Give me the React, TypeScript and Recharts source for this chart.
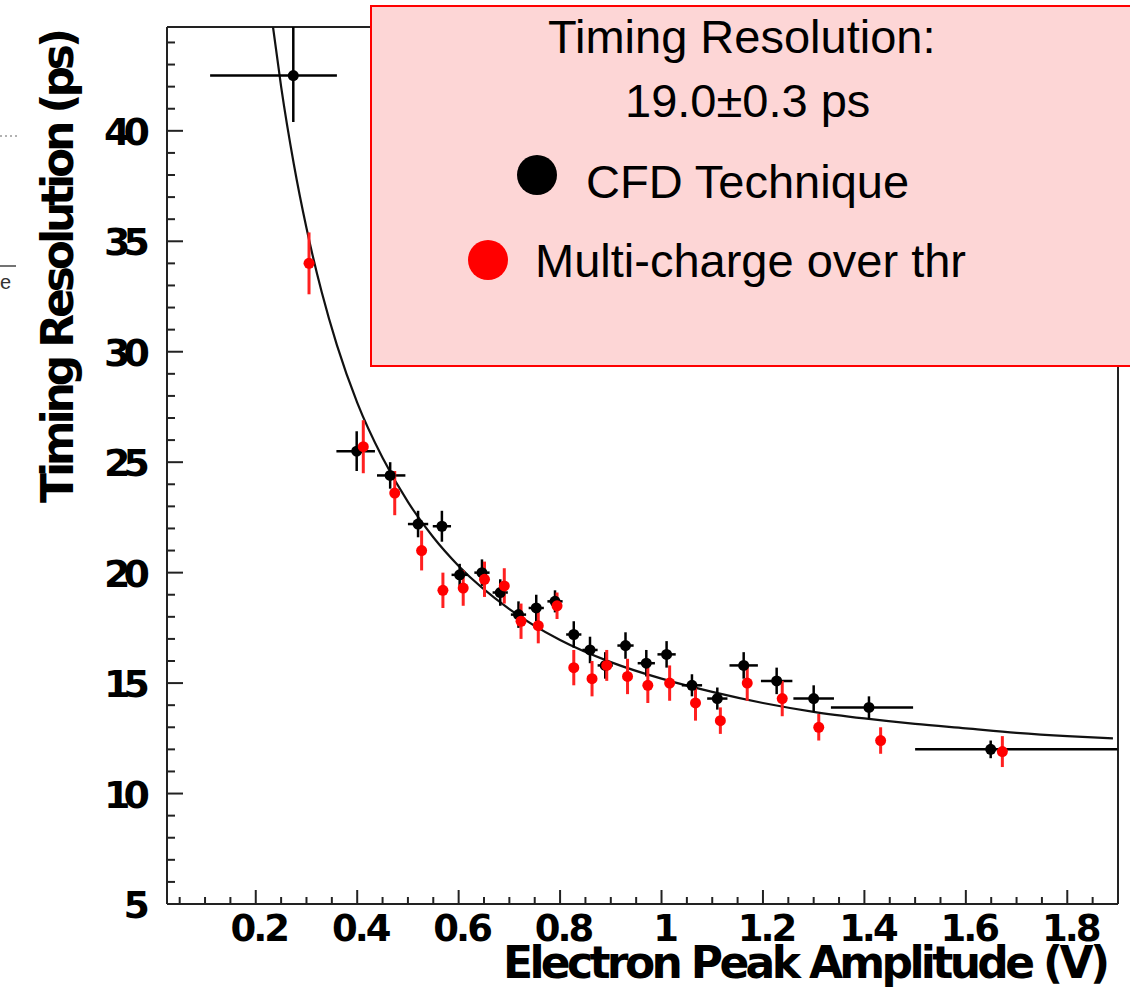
import React from 'react';
import { ComposedChart, Scatter, Line, XAxis, YAxis, ErrorBar, ReferenceLine, Label } from 'recharts';

// CFD technique points (black): x, y, x-error [low, high], y-error [low, high]
const cfdX = [0.274, 0.399, 0.465, 0.52, 0.567, 0.602, 0.646, 0.682, 0.718, 0.753, 0.79, 0.827, 0.859, 0.889, 0.929, 0.97, 1.01, 1.06, 1.11, 1.162, 1.227, 1.3, 1.409, 1.649];
const cfdY = [42.5, 25.5, 24.4, 22.2, 22.1, 19.9, 20.0, 19.1, 18.1, 18.4, 18.7, 17.2, 16.5, 15.8, 16.7, 15.9, 16.3, 14.9, 14.3, 15.8, 15.1, 14.3, 13.9, 12.0];
const cfdErrX = [[0.164, 0.086], [0.04, 0.036], [0.026, 0.03], [0.02, 0.02], [0.018, 0.018], [0.016, 0.016], [0.015, 0.015], [0.015, 0.015], [0.015, 0.015], [0.015, 0.015], [0.015, 0.015], [0.015, 0.015], [0.015, 0.015], [0.015, 0.015], [0.016, 0.016], [0.017, 0.017], [0.018, 0.018], [0.02, 0.02], [0.02, 0.02], [0.028, 0.028], [0.031, 0.031], [0.04, 0.04], [0.075, 0.087], [0.149, 0.25]];
const cfdErrY = [[2.1, 2.2], [0.9, 0.9], [0.6, 0.6], [0.6, 0.6], [0.7, 0.7], [0.5, 0.5], [0.6, 0.6], [0.6, 0.6], [0.6, 0.6], [0.6, 0.6], [0.5, 0.5], [0.6, 0.6], [0.6, 0.6], [0.6, 0.6], [0.6, 0.6], [0.6, 0.6], [0.6, 0.6], [0.5, 0.5], [0.5, 0.5], [0.6, 0.6], [0.6, 0.6], [0.6, 0.6], [0.5, 0.5], [0.4, 0.4]];

// Multi-charge over threshold points (red): x, y, y-error
const mcX = [0.305, 0.412, 0.474, 0.527, 0.569, 0.609, 0.651, 0.69, 0.723, 0.757, 0.794, 0.827, 0.863, 0.892, 0.933, 0.973, 1.016, 1.067, 1.116, 1.169, 1.238, 1.31, 1.432, 1.672];
const mcY = [34.0, 25.7, 23.6, 21.0, 19.2, 19.3, 19.7, 19.4, 17.8, 17.6, 18.5, 15.7, 15.2, 15.8, 15.3, 14.9, 15.0, 14.1, 13.3, 15.0, 14.3, 13.0, 12.4, 11.9];
const mcErrY = [1.4, 1.2, 1.0, 0.9, 0.8, 0.8, 0.8, 0.8, 0.8, 0.8, 0.6, 0.8, 0.8, 0.7, 0.8, 0.8, 0.8, 0.8, 0.6, 0.8, 0.8, 0.6, 0.6, 0.7];

// fit curve
const fitX = [0.234, 0.25, 0.275, 0.3, 0.33, 0.36, 0.4, 0.45, 0.5, 0.55, 0.6, 0.7, 0.8, 0.9, 1.0, 1.1, 1.2, 1.3, 1.4, 1.5, 1.6, 1.7, 1.8, 1.89];
const fitY = [44.7, 42.0, 38.5, 35.6, 32.7, 30.3, 27.7, 25.2, 23.2, 21.6, 20.3, 18.35, 16.95, 15.95, 15.2, 14.6, 14.1, 13.7, 13.4, 13.15, 12.95, 12.75, 12.6, 12.5];

const xMajor = [0.2, 0.4, 0.6, 0.8, 1.0, 1.2, 1.4, 1.6, 1.8];
const xTicks = [0.05, 0.1, 0.15, 0.2, 0.25, 0.3, 0.35, 0.4, 0.45, 0.5, 0.55, 0.6, 0.65, 0.7, 0.75, 0.8, 0.85, 0.9, 0.95, 1.0, 1.05, 1.1, 1.15, 1.2, 1.25, 1.3, 1.35, 1.4, 1.45, 1.5, 1.55, 1.6, 1.65, 1.7, 1.75, 1.8, 1.85];
const yMajor = [5, 10, 15, 20, 25, 30, 35, 40];
const yTicks = [5, 6, 7, 8, 9, 10, 11, 12, 13, 14, 15, 16, 17, 18, 19, 20, 21, 22, 23, 24, 25, 26, 27, 28, 29, 30, 31, 32, 33, 34, 35, 36, 37, 38, 39, 40, 41, 42, 43, 44];

const xDomain = [0.025, 1.9];
const yDomain = [5, 44.7];

const cfdName = 'CFD Technique';
const mcName = 'Multi-charge over thr';
const fitTitle = 'Timing Resolution:';
const fitValue = '19.0\u00b10.3 ps';

const W = 1130;
const H = 990;
const PLOT_LEFT = 167;
const PLOT_BOTTOM = 904;
const AXIS_COLOR = '#222';
const TICK_FONT = '"DejaVu Sans", sans-serif';

const cfdData = cfdX.map((x, i) => ({ x, y: cfdY[i], ex: cfdErrX[i], ey: cfdErrY[i] }));
const mcData = mcX.map((x, i) => ({ x, y: mcY[i], ey: mcErrY[i] }));
const fitData = fitX.map((x, i) => ({ x, y: fitY[i] }));

const isMajor = (list: number[], v: number) => list.some(m => Math.abs(m - v) < 1e-6);

const XTick = (props: any) => {
  const { x, payload } = props;
  const v = payload.value;
  const major = isMajor(xMajor, v);
  return (
    <g>
      <line x1={x} x2={x} y1={PLOT_BOTTOM} y2={PLOT_BOTTOM - (major ? 14 : 7)} stroke={AXIS_COLOR} strokeWidth={2} />
      {major && (
        <text x={x + 3} y={941} textAnchor="middle" fontFamily={TICK_FONT} fontWeight="bold" fontSize={37} letterSpacing={-3} fill="#000">
          {Math.abs(v - 1) < 1e-6 ? '1' : v.toFixed(1)}
        </text>
      )}
    </g>
  );
};

const YTick = (props: any) => {
  const { y, payload } = props;
  const v = payload.value;
  const major = isMajor(yMajor, v);
  return (
    <g>
      <line x1={PLOT_LEFT} x2={PLOT_LEFT + (major ? 16 : 8)} y1={y} y2={y} stroke={AXIS_COLOR} strokeWidth={2} />
      {major && (
        <text x={143} y={y + 1} textAnchor="end" dominantBaseline="central" fontFamily={TICK_FONT} fontWeight="bold" fontSize={38} letterSpacing={-7} fill="#000">
          {v}
        </text>
      )}
    </g>
  );
};

const XTitle = (props: any) => {
  const { viewBox } = props;
  const right = viewBox.x + viewBox.width - 8;
  return (
    <text x={right - 607} y={978} fontFamily={TICK_FONT} fontWeight="bold" fontSize={44} textLength={607} lengthAdjust="spacing" fill="#000">
      Electron Peak Amplitude (V)
    </text>
  );
};

const YTitle = (props: any) => {
  const { viewBox } = props;
  const top = viewBox.y + 1;
  return (
    <text
      x={73}
      y={top}
      transform={`rotate(-90, 73, ${top})`}
      textAnchor="end"
      fontFamily={TICK_FONT}
      fontWeight="bold"
      fontSize={44}
      textLength={475}
      lengthAdjust="spacing"
      fill="#000"
    >
      Timing Resolution (ps)
    </text>
  );
};

const Dot = (color: string, r: number) => (props: any) => (
  <circle cx={props.cx} cy={props.cy} r={r} fill={color} />
);

const LegendBox = () => {
  const font = '"Liberation Sans", Arial, sans-serif';
  return (
    <svg width={W} height={H} style={{ position: 'absolute', left: 0, top: 0, pointerEvents: 'none' }}>
      {/* cut-off bits of the neighbouring figure */}
      <line x1={0} x2={17} y1={136} y2={136} stroke="#999" strokeWidth={1.5} strokeDasharray="2 3" />
      <line x1={0} x2={16} y1={266} y2={266} stroke="#444" strokeWidth={1.5} />
      <text x={0} y={289} fontFamily={font} fontSize={20} fill="#333">e</text>

      <rect x={371} y={6} width={800} height={360} fill="#fdd6d6" stroke="#ff0000" strokeWidth={2} />
      <text x={548} y={53} fontFamily={font} fontSize={47} fill="#000">{fitTitle}</text>
      <text x={625} y={117} fontFamily={font} fontSize={47} fill="#000">{fitValue}</text>
      <circle cx={537} cy={175} r={20} fill="#000" />
      <text x={586} y={198} fontFamily={font} fontSize={47} fill="#000">{cfdName}</text>
      <circle cx={488} cy={260} r={20} fill="#ff0000" />
      <text x={535} y={277} fontFamily={font} fontSize={47} fill="#000">{mcName}</text>
    </svg>
  );
};

export default function App() {
  return (
    <div style={{ position: 'absolute', left: 0, top: 0, width: W, height: H, overflow: 'hidden', background: '#fff' }}>
      <ComposedChart width={W} height={H} margin={{ top: 27, right: 12, bottom: 26, left: 67 }}>
        <XAxis
          type="number"
          dataKey="x"
          domain={xDomain}
          allowDataOverflow
          ticks={xTicks}
          interval={0}
          tick={XTick}
          tickLine={false}
          axisLine={{ stroke: AXIS_COLOR, strokeWidth: 2 }}
          height={60}
        >
          <Label content={XTitle} />
        </XAxis>
        <YAxis
          type="number"
          dataKey="y"
          domain={yDomain}
          allowDataOverflow
          ticks={yTicks}
          interval={0}
          tick={YTick}
          tickLine={false}
          axisLine={{ stroke: AXIS_COLOR, strokeWidth: 2 }}
          width={100}
        >
          <Label content={YTitle} />
        </YAxis>
        <ReferenceLine x={xDomain[1]} stroke={AXIS_COLOR} strokeWidth={2} />
        <ReferenceLine y={yDomain[1]} stroke={AXIS_COLOR} strokeWidth={2} />
        <Line data={fitData} dataKey="y" type="monotone" stroke="#111" strokeWidth={2.2} dot={false} legendType="none" isAnimationActive={false} />
        <Scatter name={cfdName} data={cfdData} dataKey="y" fill="#000" shape={Dot('#000', 5.5)} isAnimationActive={false}>
          <ErrorBar dataKey="ex" direction="x" width={0} stroke="#000" strokeWidth={2.5} />
          <ErrorBar dataKey="ey" direction="y" width={0} stroke="#000" strokeWidth={2.5} />
        </Scatter>
        <Scatter name={mcName} data={mcData} dataKey="y" fill="#ff0000" shape={Dot('#ff0000', 5.5)} isAnimationActive={false}>
          <ErrorBar dataKey="ey" direction="y" width={0} stroke="#ff2020" strokeWidth={3} />
        </Scatter>
      </ComposedChart>
      <LegendBox />
    </div>
  );
}
